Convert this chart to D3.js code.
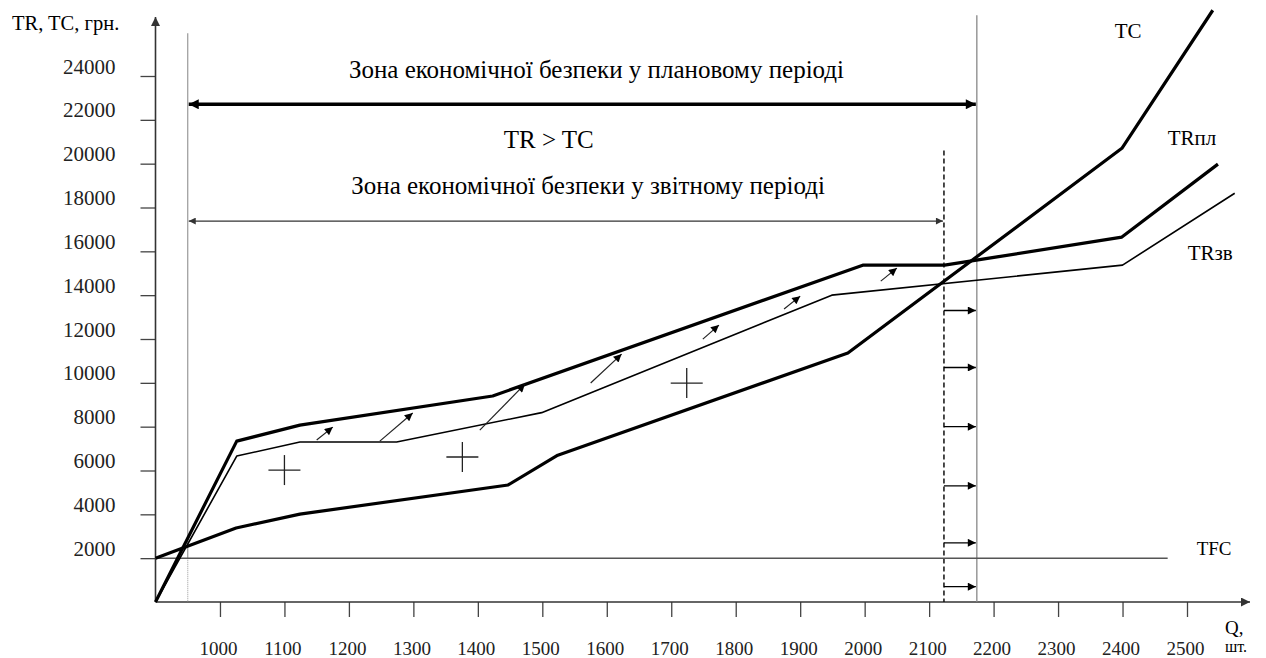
<!DOCTYPE html>
<html>
<head>
<meta charset="utf-8">
<script src="https://cdn.jsdelivr.net/npm/d3@7"></script>
<style>
  body { margin: 0; background: #fff; }
  svg { display: block; }
  svg text { font-family: "Liberation Serif", "DejaVu Serif", serif; }
</style>
</head>
<body>
<div id="chart"></div>
<script>
// ticks
var xTicks = [1000, 1100, 1200, 1300, 1400, 1500, 1600, 1700, 1800, 1900, 2000, 2100, 2200, 2300, 2400, 2500];
var yTicks = [2000, 4000, 6000, 8000, 10000, 12000, 14000, 16000, 18000, 20000, 22000, 24000];

// curves (Q, грн.)
var tcQ   = [900, 1025, 1124, 1447, 1524, 1974, 2399, 2540];
var tcV   = [2000, 3375, 4010, 5340, 6700, 11360, 20700, 27000];
var trPlQ = [900, 1026, 1124, 1423, 1997, 2124, 2399, 2548];
var trPlV = [0, 7340, 8070, 9400, 15370, 15370, 16650, 19980];
var trZvQ = [900, 1026, 1124, 1274, 1499, 1949, 2400, 2574];
var trZvV = [0, 6660, 7300, 7300, 8640, 14000, 15370, 18650];
var tfcQ  = [900, 2470];
var tfcV  = [2000, 2000];

// zone boundaries
var qBreakEvenZv = 950;   // left guide
var qSafePl = 2174;       // right guide
var qSafeZv = 2123;       // dashed line

// small arrows between TRзв and TRпл: [q0, v0, q1, v1]
var shiftArrows = [
  [1150, 7390, 1175, 7980],
  [1248, 7340, 1299, 8620],
  [1403, 7845, 1473, 9940],
  [1575, 9990, 1623, 11310],
  [1749, 11995, 1774, 12635],
  [1875, 13365, 1900, 13955],
  [2025, 14640, 2050, 15235]
];
// arrows from dashed line to right guide
var rightArrowV = [13300, 10700, 8000, 5300, 2700, 700];
// "+" marks
var plusQ = [1100, 1376, 1724];
var plusV = [6020, 6615, 9990];

var width = 1266, height = 658;
var svg = d3.select("#chart").append("svg")
    .attr("width", width)
    .attr("height", height);

var x = d3.scaleLinear().domain([900, 2500]).range([155.5, 1187]);
var y = d3.scaleLinear().domain([0, 24000]).range([602, 76]);

var defs = svg.append("defs");
function marker(id, w, h, color) {
    defs.append("marker")
        .attr("id", id)
        .attr("viewBox", "0 0 10 10")
        .attr("refX", 10).attr("refY", 5)
        .attr("markerWidth", w).attr("markerHeight", h)
        .attr("markerUnits", "userSpaceOnUse")
        .attr("orient", "auto-start-reverse")
        .append("path")
        .attr("d", "M0,0L10,5L0,10Z")
        .attr("fill", color);
}
marker("arr", 11, 8, "#000");
marker("arrBig", 14, 10, "#000");
marker("arrThin", 9, 7, "#333");
marker("arrAxis", 14, 9, "#333");

// axes
var xAxis = svg.append("g")
    .attr("transform", "translate(0," + y(0) + ")")
    .call(d3.axisBottom(x).tickValues(xTicks).tickSize(15).tickFormat(d3.format("d")));
xAxis.attr("font-family", null);
xAxis.select(".domain").remove();
xAxis.selectAll(".tick line").attr("stroke", "#444").attr("stroke-width", 1.3);
xAxis.selectAll(".tick text")
    .attr("y", 53).attr("dy", null).attr("x", -2)
    .attr("fill", "#222")
    .style("font-size", "19px");

var yAxis = svg.append("g")
    .attr("transform", "translate(" + x(900) + ",0)")
    .call(d3.axisLeft(y).tickValues(yTicks).tickSize(15).tickPadding(25).tickFormat(d3.format("d")));
yAxis.attr("font-family", null);
yAxis.select(".domain").remove();
yAxis.selectAll(".tick line").attr("stroke", "#444").attr("stroke-width", 1.3);
yAxis.selectAll(".tick text")
    .attr("dy", null).attr("y", -3)
    .attr("fill", "#222")
    .style("font-size", "21px");

// axis lines with arrows
svg.append("line")
    .attr("x1", x(900)).attr("y1", y(0))
    .attr("x2", x(900)).attr("y2", 17)
    .attr("stroke", "#333").attr("stroke-width", 1.6)
    .attr("marker-end", "url(#arrAxis)");
svg.append("line")
    .attr("x1", x(900)).attr("y1", y(0))
    .attr("x2", 1250).attr("y2", y(0))
    .attr("stroke", "#333").attr("stroke-width", 1.6)
    .attr("marker-end", "url(#arrAxis)");

svg.append("text").attr("x", 12).attr("y", 30)
    .style("font-size", "20.5px").text("TR, TC, грн.");
svg.append("text").attr("x", 1225).attr("y", 634)
    .style("font-size", "19px").text("Q,");
svg.append("text").attr("x", 1225).attr("y", 652)
    .style("font-size", "16px").text("шт.");

// guides
svg.append("line")
    .attr("x1", x(qBreakEvenZv)).attr("x2", x(qBreakEvenZv))
    .attr("y1", y(25950)).attr("y2", y(2000))
    .attr("stroke", "#999").attr("stroke-width", 1.2);
svg.append("line")
    .attr("x1", x(qBreakEvenZv)).attr("x2", x(qBreakEvenZv))
    .attr("y1", y(2000)).attr("y2", y(0))
    .attr("stroke", "#aaa").attr("stroke-width", 1.2)
    .attr("stroke-dasharray", "1,1");
svg.append("line")
    .attr("x1", x(qSafePl)).attr("x2", x(qSafePl))
    .attr("y1", y(26770)).attr("y2", y(0))
    .attr("stroke", "#888").attr("stroke-width", 1.3);
svg.append("line")
    .attr("x1", x(qSafeZv)).attr("x2", x(qSafeZv))
    .attr("y1", y(20600)).attr("y2", y(0))
    .attr("stroke", "#111").attr("stroke-width", 1.5)
    .attr("stroke-dasharray", "5,3");

// zone arrows
svg.append("line")
    .attr("x1", x(qBreakEvenZv) + 1).attr("x2", x(qSafePl) - 1)
    .attr("y1", y(22710)).attr("y2", y(22710))
    .attr("stroke", "#000").attr("stroke-width", 3.5)
    .attr("marker-start", "url(#arrBig)")
    .attr("marker-end", "url(#arrBig)");
svg.append("line")
    .attr("x1", x(qBreakEvenZv) + 1).attr("x2", x(qSafeZv) - 1)
    .attr("y1", y(17380)).attr("y2", y(17380))
    .attr("stroke", "#333").attr("stroke-width", 1.2)
    .attr("marker-start", "url(#arrThin)")
    .attr("marker-end", "url(#arrThin)");

svg.append("text").attr("x", x(1584)).attr("y", y(23900))
    .attr("text-anchor", "middle").style("font-size", "25px")
    .text("Зона економічної безпеки у плановому періоді");
svg.append("text").attr("x", x(1510)).attr("y", y(20700))
    .attr("text-anchor", "middle").style("font-size", "25px")
    .text("TR > TC");
svg.append("text").attr("x", x(1571)).attr("y", y(18610))
    .attr("text-anchor", "middle").style("font-size", "25px")
    .text("Зона економічної безпеки у звітному періоді");

// curves
var line = d3.line()
    .x(function (d) { return x(d[0]); })
    .y(function (d) { return y(d[1]); });
function zip(qs, vs) {
    return qs.map(function (q, i) { return [q, vs[i]]; });
}
svg.append("path").datum(zip(tfcQ, tfcV))
    .attr("d", line).attr("fill", "none")
    .attr("stroke", "#555").attr("stroke-width", 1.5);
svg.append("path").datum(zip(trZvQ, trZvV))
    .attr("d", line).attr("fill", "none")
    .attr("stroke", "#000").attr("stroke-width", 1.6)
    .attr("stroke-linejoin", "round");
svg.append("path").datum(zip(trPlQ, trPlV))
    .attr("d", line).attr("fill", "none")
    .attr("stroke", "#000").attr("stroke-width", 3.2)
    .attr("stroke-linejoin", "round");
svg.append("path").datum(zip(tcQ, tcV))
    .attr("d", line).attr("fill", "none")
    .attr("stroke", "#000").attr("stroke-width", 3.2)
    .attr("stroke-linejoin", "round");

// shift arrows
svg.selectAll(".shift").data(shiftArrows).enter().append("line")
    .attr("class", "shift")
    .attr("x1", function (d) { return x(d[0]); })
    .attr("y1", function (d) { return y(d[1]); })
    .attr("x2", function (d) { return x(d[2]); })
    .attr("y2", function (d) { return y(d[3]); })
    .attr("stroke", "#222").attr("stroke-width", 1.2)
    .attr("marker-end", "url(#arr)");

svg.selectAll(".rarrow").data(rightArrowV).enter().append("line")
    .attr("class", "rarrow")
    .attr("x1", x(qSafeZv)).attr("x2", x(qSafePl) - 1)
    .attr("y1", function (d) { return y(d); })
    .attr("y2", function (d) { return y(d); })
    .attr("stroke", "#000").attr("stroke-width", 1.3)
    .attr("marker-end", "url(#arr)");

// plus marks
var plus = svg.selectAll(".plus").data(zip(plusQ, plusV)).enter().append("g")
    .attr("class", "plus")
    .attr("transform", function (d) { return "translate(" + x(d[0]) + "," + y(d[1]) + ")"; });
plus.append("line").attr("x1", -16).attr("x2", 16)
    .attr("stroke", "#222").attr("stroke-width", 1.3);
plus.append("line").attr("y1", -15).attr("y2", 15)
    .attr("stroke", "#222").attr("stroke-width", 1.3);

// curve labels
var labels = [
    { t: "TC", q: 2388, v: 25720, s: 21 },
    { t: "TRпл", q: 2470, v: 20840, s: 21 },
    { t: "TRзв", q: 2501, v: 15600, s: 21 },
    { t: "TFC", q: 2515, v: 2150, s: 19 }
];
svg.selectAll(".lbl").data(labels).enter().append("text")
    .attr("class", "lbl")
    .attr("x", function (d) { return x(d.q); })
    .attr("y", function (d) { return y(d.v); })
    .style("font-size", function (d) { return d.s + "px"; })
    .text(function (d) { return d.t; });
</script>
</body>
</html>
